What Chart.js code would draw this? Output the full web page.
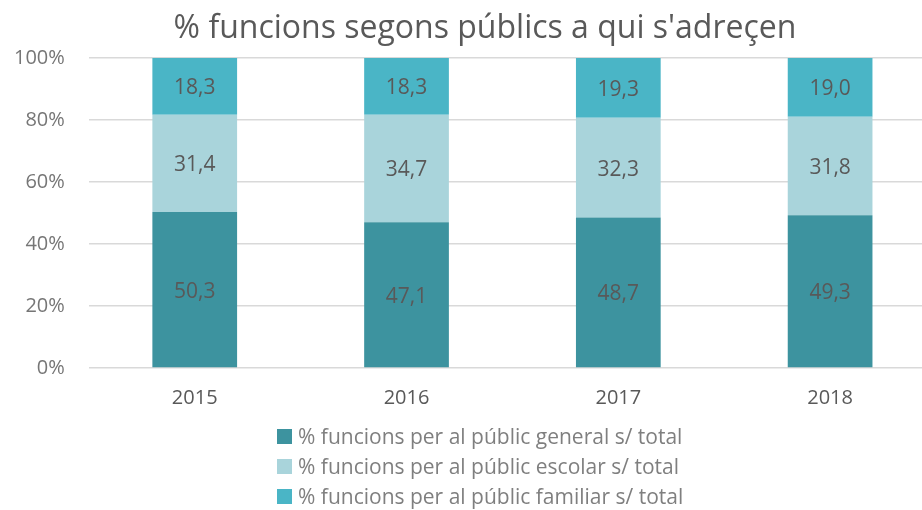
<!DOCTYPE html>
<html>
<head>
<meta charset="utf-8">
<script src="https://cdn.jsdelivr.net/npm/chart.js@4/dist/chart.umd.min.js"></script>
<style>
  html, body { margin: 0; padding: 0; background: #fff; overflow: hidden; width: 922px; height: 510px; }
  #wrap { position: relative; width: 970px; height: 510px; }
  canvas { display: block; position: relative; left: -22px; }
  #title { position: absolute; left: 0; width: 970px; top: 4px; text-align: center; font-family: "Open Sans", sans-serif; font-size: 32px; line-height: 44px; color: #595959; }
  #legend { position: absolute; left: 277px; top: 421px; font-family: "Open Sans", sans-serif; font-size: 21px; color: #7f7f7f; }
  .li { display: flex; align-items: center; height: 30px; }
  .sw { width: 15px; height: 15px; margin-right: 6px; }
</style>
</head>
<body>
<div id="wrap">
  <canvas id="c" width="970" height="510"></canvas>
  <div id="title"></div>
  <div id="legend"></div>
</div>
<script>
const titleText = "% funcions segons públics a qui s'adreçen";
const categories = ["2015", "2016", "2017", "2018"];
const seriesNames = [
  "% funcions per al públic general s/ total",
  "% funcions per al públic escolar s/ total",
  "% funcions per al públic familiar s/ total"
];
const general = [50.3, 47.1, 48.7, 49.3];
const escolar = [31.4, 34.7, 32.3, 31.8];
const familiar = [18.3, 18.3, 19.3, 19.0];
const yTicks = [0, 20, 40, 60, 80, 100];
const colors = ["#3D939F", "#A9D4DB", "#4AB5C6"];

const raw = [general, escolar, familiar];
const totals = categories.map((_, i) => raw.reduce((s, a) => s + a[i], 0));
const datasets = raw.map((arr, k) => ({
  label: seriesNames[k],
  data: arr.map((v, i) => v / totals[i] * 100),
  rawValues: arr,
  backgroundColor: colors[k],
  borderWidth: 0,
  barPercentage: 0.4,
  categoryPercentage: 1.0
}));

const labelPlugin = {
  id: 'segLabels',
  afterDatasetsDraw(chart) {
    const ctx = chart.ctx;
    ctx.save();
    ctx.font = '21px "Open Sans", sans-serif';
    ctx.fillStyle = '#595959';
    ctx.textAlign = 'center';
    ctx.textBaseline = 'middle';
    chart.data.datasets.forEach((ds, di) => {
      const meta = chart.getDatasetMeta(di);
      meta.data.forEach((bar, i) => {
        const y = (bar.y + bar.base) / 2 + 2;
        ctx.fillText(ds.rawValues[i].toFixed(1).replace('.', ','), bar.x, y);
      });
    });
    ctx.restore();
  }
};

document.getElementById('title').textContent = titleText;

const chart = new Chart(document.getElementById('c'), {
  type: 'bar',
  data: { labels: categories, datasets },
  options: {
    responsive: false,
    animation: false,
    layout: { padding: { left: 12, right: 12, top: 58, bottom: 90 } },
    plugins: {
      legend: { display: false },
      tooltip: { enabled: false },
      title: { display: false }
    },
    scales: {
      x: {
        stacked: true,
        grid: { display: false },
        border: { display: false },
        ticks: { color: '#595959', font: { family: '"Open Sans", sans-serif', size: 20 }, padding: 10 }
      },
      y: {
        stacked: true,
        min: 0, max: 100,
        afterBuildTicks(axis) { axis.ticks = yTicks.map(v => ({ value: v })); },
        grid: { color: '#d9d9d9', lineWidth: 1.5, drawTicks: false },
        border: { display: false },
        ticks: {
          color: '#767676',
          font: { family: '"Open Sans", sans-serif', size: 20 },
          padding: 24,
          callback: v => v + '%'
        }
      }
    }
  },
  plugins: [labelPlugin]
});

const lg = document.getElementById('legend');
datasets.forEach(ds => {
  const d = document.createElement('div'); d.className = 'li';
  const s = document.createElement('span'); s.className = 'sw'; s.style.background = ds.backgroundColor;
  const t = document.createElement('span'); t.textContent = ds.label;
  d.appendChild(s); d.appendChild(t); lg.appendChild(d);
});
</script>
</body>
</html>
